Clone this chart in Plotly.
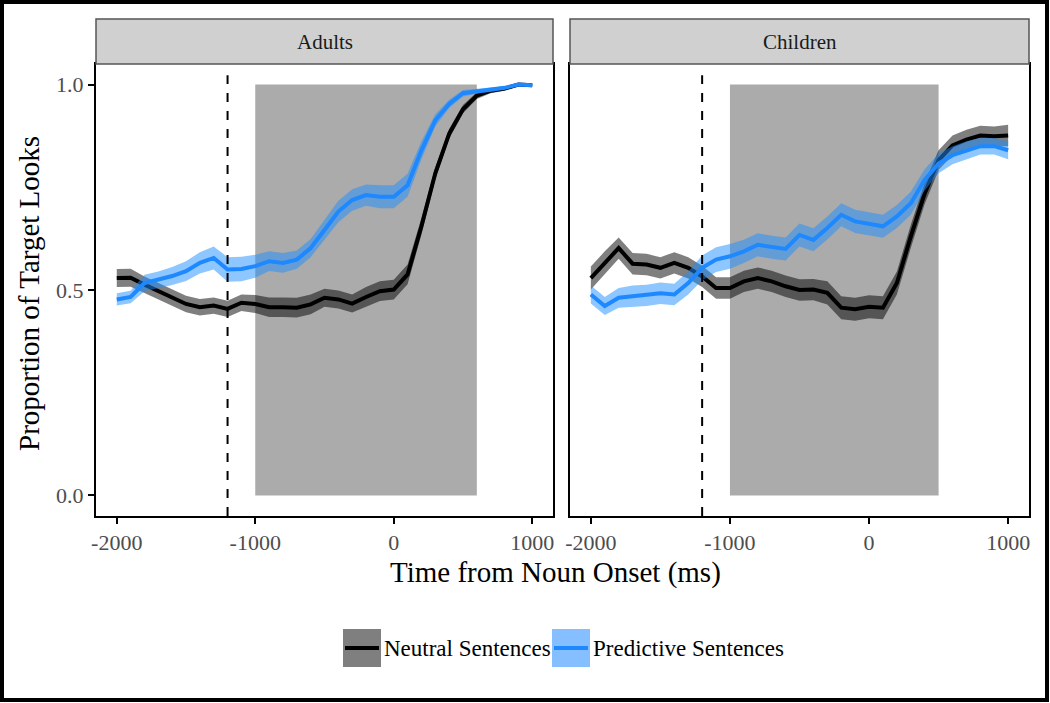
import plotly.graph_objects as go
from plotly.subplots import make_subplots

# time bins (ms from noun onset)
time_ms = list(range(-2000, 1001, 100))

# Adults
adult_neutral = [0.529, 0.530, 0.513, 0.497, 0.481, 0.466, 0.458, 0.462, 0.454, 0.469,
                 0.466, 0.458, 0.458, 0.457, 0.465, 0.481, 0.477, 0.467, 0.483, 0.497,
                 0.501, 0.538, 0.655, 0.784, 0.880, 0.940, 0.973, 0.985, 0.990, 1.000, 0.998]
adult_neutral_se = [0.022, 0.022, 0.020, 0.020, 0.020, 0.020, 0.020, 0.020, 0.020, 0.020,
                    0.022, 0.024, 0.024, 0.024, 0.024, 0.022, 0.022, 0.022, 0.024, 0.024,
                    0.024, 0.024, 0.020, 0.015, 0.012, 0.010, 0.008, 0.006, 0.005, 0.004, 0.004]
adult_predictive = [0.477, 0.483, 0.517, 0.525, 0.534, 0.546, 0.566, 0.578, 0.550, 0.551,
                    0.558, 0.570, 0.566, 0.574, 0.602, 0.646, 0.691, 0.719, 0.731, 0.727,
                    0.727, 0.755, 0.840, 0.913, 0.953, 0.979, 0.984, 0.987, 0.992, 1.000, 0.998]
adult_predictive_se = [0.015, 0.015, 0.020, 0.020, 0.022, 0.024, 0.026, 0.028, 0.030, 0.030,
                       0.028, 0.024, 0.024, 0.022, 0.022, 0.024, 0.026, 0.026, 0.026, 0.028,
                       0.028, 0.028, 0.022, 0.015, 0.010, 0.008, 0.006, 0.005, 0.004, 0.003, 0.003]

# Children
child_neutral = [0.529, 0.566, 0.602, 0.564, 0.562, 0.554, 0.566, 0.554, 0.533, 0.505,
                 0.505, 0.521, 0.529, 0.521, 0.509, 0.500, 0.501, 0.493, 0.457, 0.453,
                 0.459, 0.457, 0.517, 0.630, 0.735, 0.816, 0.852, 0.866, 0.876, 0.874, 0.876]
child_neutral_se = [0.028, 0.028, 0.026, 0.026, 0.026, 0.026, 0.026, 0.026, 0.026, 0.026,
                    0.026, 0.026, 0.026, 0.026, 0.026, 0.026, 0.026, 0.028, 0.028, 0.028,
                    0.028, 0.028, 0.028, 0.028, 0.026, 0.024, 0.024, 0.024, 0.024, 0.024, 0.026]
child_predictive = [0.489, 0.461, 0.481, 0.485, 0.487, 0.492, 0.489, 0.517, 0.554, 0.574,
                    0.582, 0.594, 0.610, 0.604, 0.600, 0.634, 0.622, 0.651, 0.683, 0.667,
                    0.661, 0.655, 0.679, 0.711, 0.768, 0.808, 0.828, 0.840, 0.850, 0.850, 0.840]
child_predictive_se = [0.022, 0.022, 0.024, 0.026, 0.026, 0.026, 0.026, 0.028, 0.030, 0.030,
                       0.030, 0.028, 0.028, 0.028, 0.028, 0.028, 0.028, 0.028, 0.028, 0.028,
                       0.028, 0.028, 0.028, 0.028, 0.026, 0.024, 0.022, 0.022, 0.020, 0.020, 0.022]

panels = ["Adults", "Children"]
window_end = [600, 500]     # end of grey analysis window per panel
window_start = -1000
verb_onset = -1200

FONT = "Liberation Serif"
BLACK_RIBBON = "rgba(0,0,0,0.5)"
BLUE = "#1E88FF"
BLUE_RIBBON = "rgba(30,144,255,0.5)"

fig = make_subplots(rows=1, cols=2, shared_yaxes=True, horizontal_spacing=0.018)


def add_ribbon(fig, col, y, se, line_color, fill_color, name):
    lower = [v - s for v, s in zip(y, se)]
    upper = [v + s for v, s in zip(y, se)]
    fig.add_trace(go.Scatter(x=time_ms, y=lower, mode="lines", line=dict(width=0),
                             showlegend=False, hoverinfo="skip"), row=1, col=col)
    fig.add_trace(go.Scatter(x=time_ms, y=upper, mode="lines", line=dict(width=0),
                             fill="tonexty", fillcolor=fill_color,
                             showlegend=False, hoverinfo="skip"), row=1, col=col)
    fig.add_trace(go.Scatter(x=time_ms, y=y, mode="lines", name=name,
                             line=dict(color=line_color, width=4),
                             showlegend=False), row=1, col=col)


data = [
    (adult_neutral, adult_neutral_se, adult_predictive, adult_predictive_se),
    (child_neutral, child_neutral_se, child_predictive, child_predictive_se),
]

for i, (neu, neu_se, pred, pred_se) in enumerate(data):
    col = i + 1
    sfx = "" if col == 1 else str(col)
    # grey window
    fig.add_shape(type="rect", xref=f"x{sfx}", yref=f"y{sfx}",
                  x0=window_start, x1=window_end[i], y0=0, y1=1,
                  fillcolor="#ABABAB", line_width=0, layer="below")
    # dashed line
    fig.add_shape(type="line", xref=f"x{sfx}", yref=f"y{sfx} domain",
                  x0=verb_onset, x1=verb_onset, y0=0, y1=0.975,
                  line=dict(color="black", width=2, dash="dash"))
    add_ribbon(fig, col, neu, neu_se, "black", BLACK_RIBBON, "Neutral Sentences")
    add_ribbon(fig, col, pred, pred_se, BLUE, BLUE_RIBBON, "Predictive Sentences")

axis_common = dict(showgrid=False, zeroline=False, showline=True, linecolor="black",
                   linewidth=2, mirror=True, ticks="outside", ticklen=6, tickwidth=2,
                   tickcolor="black", tickfont=dict(family=FONT, size=22, color="#4D4D4D"))

fig.update_xaxes(range=[-2150, 1150], tickvals=[-2000, -1000, 0, 1000],
                 ticktext=["-2000", "-1000", "0", "1000"], **axis_common)
fig.update_yaxes(range=[-0.05, 1.05], tickvals=[0, 0.5, 1.0],
                 ticktext=["0.0", "0.5", "1.0"], **axis_common)
fig.update_yaxes(ticks="", showticklabels=False, row=1, col=2)

# layout geometry: plot area from x=96..1029, y=64..516 in pixels
W, H = 1050, 703
L, R, T, B = 96, 21, 64, 187
pw, ph = W - L - R, H - T - B


def px(xp):
    return (xp - L) / pw


def py(yp):
    return (H - B - yp) / ph


fig.update_xaxes(domain=[0, px(553)], row=1, col=1)
fig.update_xaxes(domain=[px(570), 1], row=1, col=2)

# facet strips
strip_edges = [(px(96), px(553)), (px(570), px(1029))]
for (x0, x1), name in zip(strip_edges, panels):
    fig.add_shape(type="rect", xref="paper", yref="paper", x0=x0, x1=x1,
                  y0=1.0, y1=py(19), fillcolor="#D0D0D0",
                  line=dict(color="#555555", width=1.5))
    fig.add_annotation(text=name, xref="paper", yref="paper", x=(x0 + x1) / 2,
                       y=py(42), xanchor="center", yanchor="middle", showarrow=False,
                       font=dict(family=FONT, size=21, color="#1A1A1A"))

# axis titles
fig.add_annotation(text="Time from Noun Onset (ms)", xref="paper", yref="paper",
                   x=px(555), y=py(572), xanchor="center", yanchor="middle",
                   showarrow=False, font=dict(family=FONT, size=29, color="black"))
fig.add_annotation(text="Proportion of Target Looks", xref="paper", yref="paper",
                   x=px(29), y=py(294), xanchor="center", yanchor="middle",
                   showarrow=False, textangle=-90,
                   font=dict(family=FONT, size=29, color="black"))

# legend (drawn manually to mimic ggplot keys)
legend_items = [("Neutral Sentences", "#7F7F7F", "black", 343),
                ("Predictive Sentences", "#86BFFF", BLUE, 552)]
for label, fill, line_c, x_left in legend_items:
    fig.add_shape(type="rect", xref="paper", yref="paper",
                  x0=px(x_left), x1=px(x_left + 38), y0=py(667), y1=py(629),
                  fillcolor=fill, line_width=0)
    fig.add_shape(type="line", xref="paper", yref="paper",
                  x0=px(x_left + 2), x1=px(x_left + 36), y0=py(648), y1=py(648),
                  line=dict(color=line_c, width=4))
    fig.add_annotation(text=label, xref="paper", yref="paper", x=px(x_left + 39),
                       y=py(648), xanchor="left", yanchor="middle", showarrow=False,
                       font=dict(family=FONT, size=23, color="black"))

# outer frame
fig.add_shape(type="rect", xref="paper", yref="paper",
              x0=px(2), x1=px(1047), y0=py(700), y1=py(2),
              line=dict(color="black", width=4))

fig.update_layout(
    width=W, height=H,
    margin=dict(l=L, r=R, t=T, b=B),
    paper_bgcolor="white", plot_bgcolor="white",
    showlegend=False,
)

# drop the default page margin so the figure sits at the window origin
fig.write_html("out.html", config={"displayModeBar": False},
               post_script="document.body.style.margin='0';document.body.style.overflow='hidden';")
